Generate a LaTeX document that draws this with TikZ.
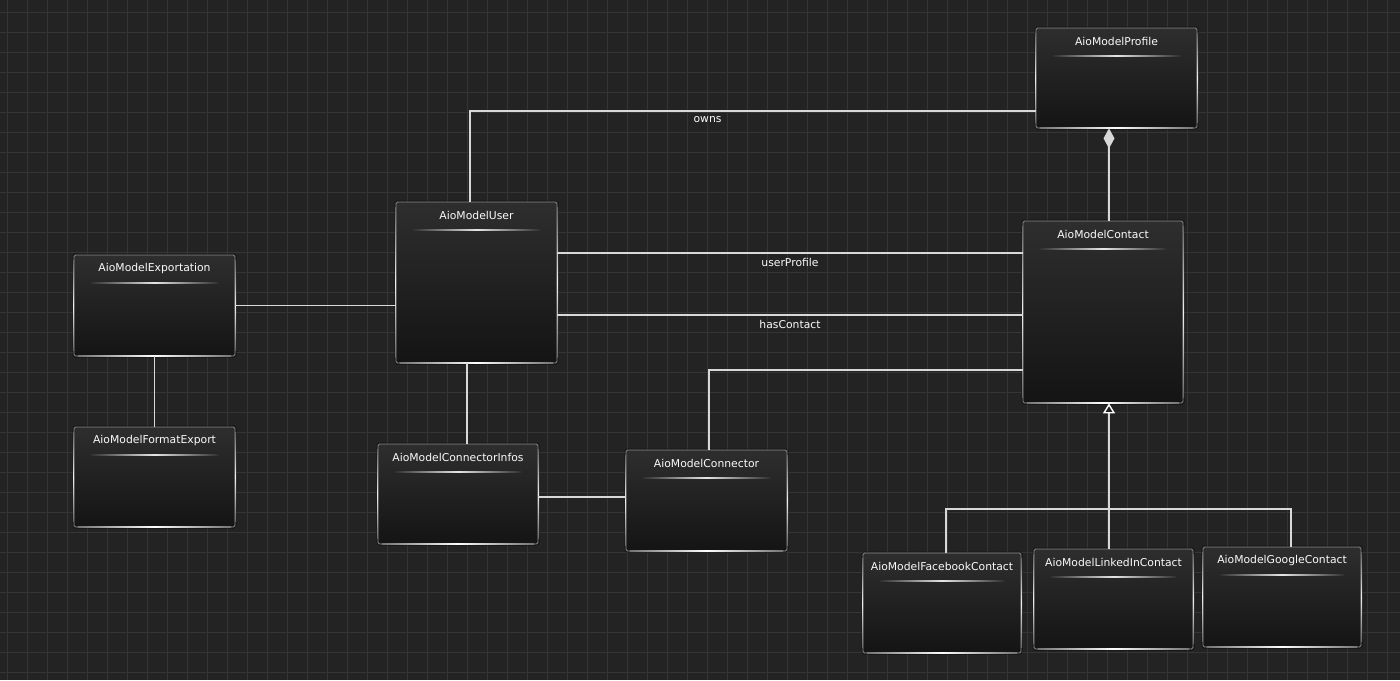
\documentclass[tikz,border=0pt]{standalone}
\usepackage{fontspec}
\setmainfont{DejaVu Sans}
\usetikzlibrary{arrows.meta,calc}
\definecolor{bgc}{HTML}{232323}
\definecolor{gridc}{HTML}{353535}
\definecolor{boxtop}{HTML}{2E2E2E}
\definecolor{boxbot}{HTML}{141414}
\definecolor{edgec}{HTML}{D8D8D8}
\definecolor{txtc}{HTML}{FAFAFA}
\tikzset{
  cls/.style={rectangle, rounded corners=1.5pt, inner sep=0pt,
    top color=boxtop, bottom color=boxbot, draw=white!55!black, line width=0.8pt,
    preaction={draw=black, opacity=0.45, line width=3pt}},
  clstitle/.style={font=\fontsize{10.8}{12}\selectfont, text=txtc, inner sep=0pt},
  lbl/.style={font=\fontsize{10.8}{12}\selectfont, text=txtc, inner sep=1pt},
  edge/.style={draw=edgec, line width=1.5pt},
  comp/.style={edge, {Diamond[length=20pt,width=11pt,fill=edgec,color=edgec]}-},
  gen/.style={edge, -{Triangle[length=10pt,width=12pt,fill=bgc,color=white,line width=1.4pt]}},
}
% name, cx, cy, width, height, title
\newcommand\umlbox[6]{%
  \node[cls, minimum width=#4pt, minimum height=#5pt] (#1) at (#2,#3) {};
  \node[clstitle] (#1-t) at ([yshift=-14pt]#1.north) {#6};
  \shade[left color=boxtop, right color=boxtop, middle color=white!90!black]
    ([xshift=17pt,yshift=-27.6pt]#1.north west) rectangle ([xshift=-17pt,yshift=-28.6pt]#1.north east);
  \shade[left color=white!45!black, right color=white!45!black, middle color=white]
    ([xshift=4pt,yshift=-0.4pt]#1.south west) rectangle ([xshift=-4pt,yshift=0.6pt]#1.south east);
  \shade[top color=white!40!black, bottom color=white!40!black, middle color=white!95!black]
    ([xshift=-0.6pt,yshift=-6pt]#1.north west) rectangle ([xshift=0.6pt,yshift=6pt]#1.south west);
  \shade[top color=white!40!black, bottom color=white!40!black, middle color=white!95!black]
    ([xshift=-0.6pt,yshift=-6pt]#1.north east) rectangle ([xshift=0.6pt,yshift=6pt]#1.south east);
}
\begin{document}
\begin{tikzpicture}[x=1pt,y=-1pt]
\fill[bgc] (0,0) rectangle (1400,680);
\useasboundingbox (0,0) rectangle (1400,680);
\foreach \gx in {7,27,...,1400} \draw[gridc, line width=1pt] (\gx,0) -- (\gx,680);
\foreach \gy in {12,32,...,680} \draw[gridc, line width=1pt] (0,\gy) -- (1400,\gy);

\coordinate (jn) at (1109,509);

\umlbox{profile}{1116.5}{78}{161}{100}{AioModelProfile}
\umlbox{user}{476.5}{282.5}{161}{161}{AioModelUser}
\umlbox{export}{154.5}{305.5}{161}{101}{AioModelExportation}
\umlbox{format}{154.5}{477}{161}{100}{AioModelFormatExport}
\umlbox{cinfos}{458}{494}{160}{100}{AioModelConnectorInfos}
\umlbox{connector}{706.5}{500.5}{161}{101}{AioModelConnector}
\umlbox{contact}{1103}{312}{160}{182}{AioModelContact}
\umlbox{fb}{942}{603}{158}{100}{AioModelFacebookContact}
\umlbox{li}{1113.5}{599}{159}{100}{AioModelLinkedInContact}
\umlbox{gg}{1282}{597}{158}{100}{AioModelGoogleContact}

\draw[edge] ([xshift=-6.5pt]user.north) |- ([yshift=-33pt]profile.west)
  node[lbl, pos=0.71, below=4pt] {owns};
\draw[edge] ([yshift=29.5pt]user.east) -- ([yshift=29.5pt]user.east -| contact.west)
  node[lbl, midway, below=4pt] {userProfile};
\draw[edge] ([yshift=-32.5pt]user.east) -- ([yshift=-32.5pt]user.east -| contact.west)
  node[lbl, midway, below=3.5pt] {hasContact};
\draw[edge] (export.east) -- (export.east -| user.west);
\draw[edge] (export.south) -- (format.north);
\draw[edge] ([xshift=-9.5pt]user.south) -- ([xshift=-9.5pt]user.south |- cinfos.north);
\draw[edge] ([yshift=-3pt]cinfos.east) -- ([yshift=-3pt]cinfos.east -| connector.west);
\draw[edge] ([xshift=2.5pt]connector.north) |- ([yshift=-58pt]contact.west);
\draw[comp] ([xshift=6pt]contact.north |- profile.south) -- ([xshift=6pt]contact.north);
\draw[gen] (jn) -- (jn |- contact.south);
\draw[edge] ([xshift=4pt]fb.north) |- (jn);
\draw[edge] (li.north -| jn) -- (jn);
\draw[edge] ([xshift=9pt]gg.north) |- (jn);
\end{tikzpicture}
\end{document}
